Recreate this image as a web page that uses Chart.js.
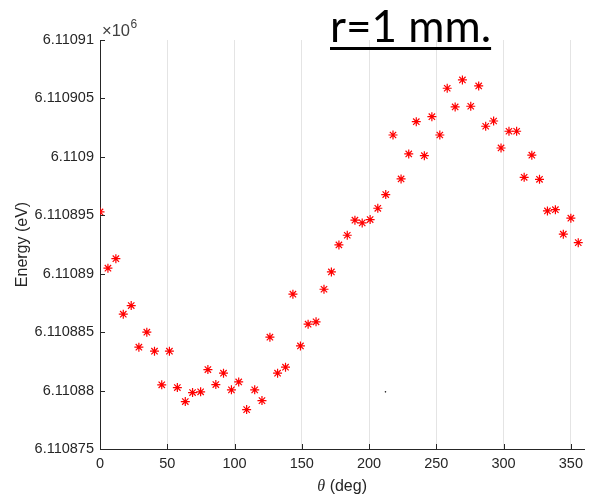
<!DOCTYPE html>
<html>
<head>
<meta charset="utf-8">
<style>
  html, body { margin: 0; padding: 0; background: #fff; }
  #wrap { width: 590px; height: 498px; position: relative; }
</style>
<script src="https://cdn.jsdelivr.net/npm/chart.js@4.4.1/dist/chart.umd.min.js"></script>
</head>
<body>
<div id="wrap"><canvas id="c" width="590" height="498"></canvas></div>
<script>
// angle (deg) and energy (eV)
const thetaDeg = [0, 5.9, 11.8, 17.3, 23.2, 28.9, 34.8, 40.5, 45.9, 51.6, 57.5, 63.4, 68.8, 74.8, 80.2,
  86.1, 91.8, 97.7, 103.1, 109.0, 115.0, 120.4, 126.3, 132.0, 137.9, 143.4, 149.0, 154.7, 160.6, 166.5,
  172.0, 177.6, 183.8, 189.5, 194.9, 200.8, 206.5, 212.4, 217.8, 223.8, 229.5, 235.1, 241.1, 246.7,
  252.6, 258.1, 264.0, 269.4, 275.6, 281.5, 286.7, 292.6, 298.1, 304.0, 309.7, 315.3, 321.0, 326.7,
  332.6, 338.5, 344.4, 350.0, 355.5];
const energyEv = [6110895.29, 6110890.47, 6110891.29, 6110886.54, 6110887.27, 6110883.71, 6110885.0,
  6110883.37, 6110880.49, 6110883.37, 6110880.26, 6110879.06, 6110879.83, 6110879.89, 6110881.8,
  6110880.51, 6110881.49, 6110880.06, 6110880.74, 6110878.37, 6110880.06, 6110879.14, 6110884.57,
  6110881.49, 6110882.0, 6110888.25, 6110883.82, 6110885.68, 6110885.88, 6110888.67, 6110890.15,
  6110892.46, 6110893.29, 6110894.58, 6110894.35, 6110894.63, 6110895.6, 6110896.77, 6110901.87,
  6110898.11, 6110900.25, 6110903.01, 6110900.1, 6110903.44, 6110901.87, 6110905.87, 6110904.27,
  6110906.58, 6110904.33, 6110906.07, 6110902.62, 6110903.07, 6110900.76, 6110902.19, 6110902.19,
  6110898.25, 6110900.14, 6110898.08, 6110895.37, 6110895.48, 6110893.38, 6110894.75, 6110892.66];

// stray dot near the bottom of the plot
const strayTheta = [212.2];
const strayEnergy = [6110879.89];

const yTickValues = [6110875, 6110880, 6110885, 6110890, 6110895, 6110900, 6110905, 6110910];
const yTickLabels = ['6.110875', '6.11088', '6.110885', '6.11089', '6.110895', '6.1109', '6.110905', '6.11091'];
const xTickLabels = ['0', '50', '100', '150', '200', '250', '300', '350'];

const axisColor = '#262626';
const tickFont = { family: '"Liberation Sans", Arial, sans-serif', size: 14.5 };

const decorations = {
  id: 'decorations',
  afterDraw(chart) {
    const { ctx, chartArea: a, scales: { x, y } } = chart;
    ctx.save();
    // inward tick marks like matlab
    ctx.strokeStyle = axisColor;
    ctx.lineWidth = 1;
    ctx.beginPath();
    yTickValues.forEach(v => {
      const py = Math.round(y.getPixelForValue(v)) + 0.5;
      ctx.moveTo(a.left, py); ctx.lineTo(a.left + 5, py);
    });
    x.ticks.forEach(t => {
      const px = Math.round(x.getPixelForValue(t.value)) + 0.5;
      ctx.moveTo(px, a.bottom); ctx.lineTo(px, a.bottom - 5);
    });
    ctx.stroke();

    // exponent label
    ctx.fillStyle = '#404040';
    ctx.textBaseline = 'alphabetic';
    ctx.textAlign = 'left';
    ctx.font = '16.5px "Liberation Sans", Arial, sans-serif';
    ctx.fillText('\u00d710', a.left + 2, a.top - 4);
    const w = ctx.measureText('\u00d710').width;
    ctx.font = '12px "Liberation Sans", Arial, sans-serif';
    ctx.fillText('6', a.left + 2 + w + 0.5, a.top - 12);

    // axis titles
    ctx.fillStyle = axisColor;
    ctx.font = '16px "Liberation Sans", Arial, sans-serif';
    ctx.textAlign = 'center';
    ctx.textBaseline = 'middle';
    ctx.save();
    ctx.translate(23, (a.top + a.bottom) / 2);
    ctx.rotate(-Math.PI / 2);
    ctx.fillText('Energy (eV)', 0, 0);
    ctx.restore();

    const cx = (a.left + a.right) / 2;
    ctx.textAlign = 'left';
    ctx.font = 'italic 16px "Liberation Serif", "Times New Roman", serif';
    const th = 'θ';
    const thW = ctx.measureText(th).width;
    ctx.font = '16px "Liberation Sans", Arial, sans-serif';
    const rest = ' (deg)';
    const restW = ctx.measureText(rest).width;
    const sx = cx - (thW + restW) / 2;
    ctx.font = 'italic 16px "Liberation Serif", "Times New Roman", serif';
    ctx.fillText(th, sx, 487);
    ctx.font = '16px "Liberation Sans", Arial, sans-serif';
    ctx.fillText(rest, sx + thW, 487);

    // big underlined title
    ctx.fillStyle = '#000';
    ctx.font = '44px Lato, "Open Sans", sans-serif';
    ctx.textBaseline = 'alphabetic';
    const title = 'r=1 mm.';
    ctx.fillText(title, 330, 42);
    const tw = ctx.measureText(title).width;
    ctx.fillRect(330, 47, tw, 3);
    ctx.restore();
  }
};

new Chart(document.getElementById('c'), {
  type: 'scatter',
  data: {
    datasets: [
      {
        data: thetaDeg.map((t, i) => ({ x: t, y: energyEv[i] })),
        pointStyle: 'star',
        radius: 4.5,
        borderColor: '#ff0000',
        backgroundColor: '#ff0000',
        borderWidth: 1.2
      },
      {
        data: strayTheta.map((t, i) => ({ x: t, y: strayEnergy[i] })),
        pointStyle: 'circle',
        radius: 0.8,
        borderWidth: 0,
        backgroundColor: '#222'
      }
    ]
  },
  options: {
    responsive: false,
    animation: false,
    layout: { padding: { top: 40, right: 3.4, left: 0, bottom: 0 } },
    plugins: { legend: { display: false }, tooltip: { enabled: false } },
    scales: {
      x: {
        type: 'linear',
        min: 0, max: 360,
        afterFit(s) { s.height = 49; },
        ticks: {
          stepSize: 50,
          includeBounds: false,
          color: axisColor,
          font: tickFont,
          padding: 6,
          maxRotation: 0,
          callback: (v, i) => xTickLabels[i]
        },
        grid: { color: '#e4e4e4', drawTicks: false, lineWidth: 1 },
        border: { display: true, color: axisColor, width: 1 }
      },
      y: {
        type: 'linear',
        min: 6110875, max: 6110910,
        afterFit(s) { s.width = 100; },
        afterBuildTicks(s) { s.ticks = yTickValues.map(v => ({ value: v })); },
        ticks: {
          color: axisColor,
          font: tickFont,
          padding: 6,
          callback: (v) => yTickLabels[yTickValues.indexOf(v)]
        },
        grid: { display: true, drawOnChartArea: false, drawTicks: false },
        border: { display: true, color: axisColor, width: 1 }
      }
    }
  },
  plugins: [decorations]
});
</script>
</body>
</html>
